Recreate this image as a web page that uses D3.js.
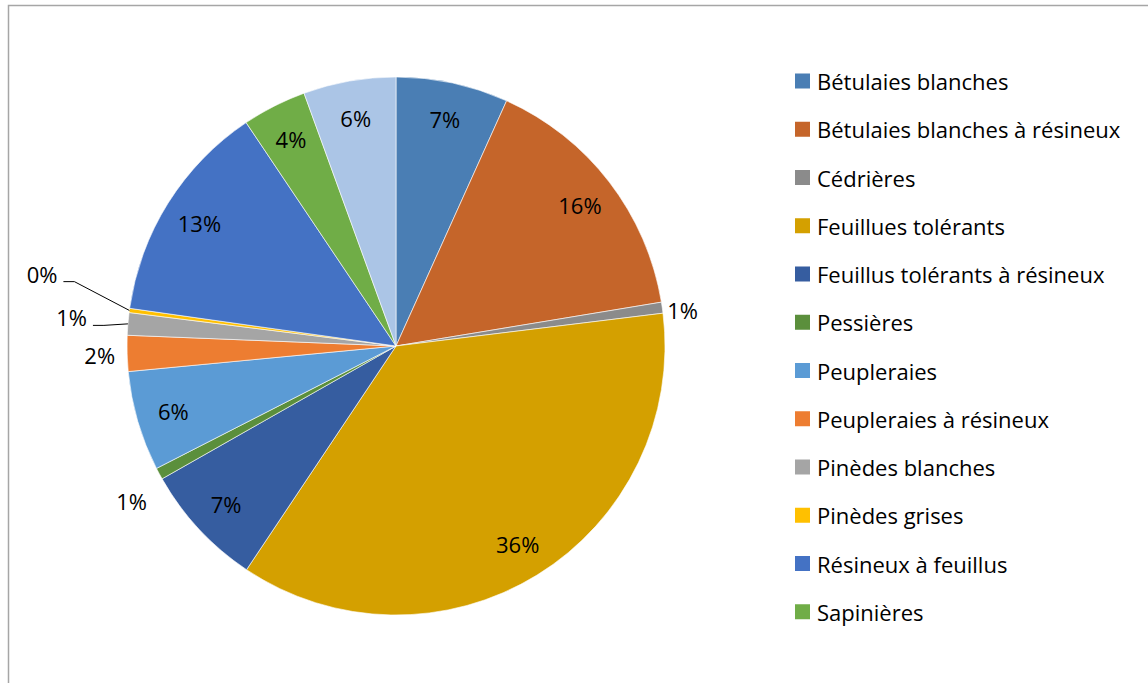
<!DOCTYPE html>
<html>
<head>
<meta charset="utf-8">
<script src="https://cdn.jsdelivr.net/npm/d3@7"></script>
<style>
  html, body { margin: 0; padding: 0; background: #fff; }
  svg { display: block; }
  text { font-family: "Open Sans", Lato, "Noto Sans", sans-serif; fill: #000; }
</style>
</head>
<body>
<svg id="chart" width="1148" height="683"></svg>
<script>
// Peuplements forestiers : part de chaque type (%)
const categories = [
  "Bétulaies blanches",
  "Bétulaies blanches à résineux",
  "Cédrières",
  "Feuillues tolérants",
  "Feuillus tolérants à résineux",
  "Pessières",
  "Peupleraies",
  "Peupleraies à résineux",
  "Pinèdes blanches",
  "Pinèdes grises",
  "Résineux à feuillus",
  "Sapinières",
  "Autres"
];
const values = [6.74, 15.64, 0.66, 36.3, 7.4, 0.7, 6.0, 2.15, 1.35, 0.25, 13.35, 3.85, 5.55];
const colors = [
  "#4a7eb4", "#c5652a", "#8b8b8b", "#d4a000", "#365da0", "#5b8f3c",
  "#5b9bd5", "#ed7d31", "#a5a5a5", "#ffc000", "#4472c4", "#70ad47",
  "#abc5e6"
];

const svg = d3.select("#chart");
const W = 1148, H = 683;

// chart frame (top and left edges visible)
svg.append("path")
  .attr("d", `M8.5,${H} V5.5 H${W}`)
  .attr("fill", "none")
  .attr("stroke", "#a6a6a6")
  .attr("stroke-width", 1.5);

const cx = 396, cy = 346, R = 269, labelR = 232;
const g = svg.append("g").attr("transform", `translate(${cx},${cy})`);

const total = d3.sum(values);
const data = categories.map((c, i) => ({ name: c, value: values[i], color: colors[i] }));
const pie = d3.pie().value(d => d.value).sort(null).startAngle(0).endAngle(2 * Math.PI);
const arcs = pie(data);
const arc = d3.arc().innerRadius(0).outerRadius(R);
const labelArc = d3.arc().innerRadius(labelR).outerRadius(labelR);

g.selectAll("path.slice")
  .data(arcs)
  .join("path")
  .attr("class", "slice")
  .attr("d", arc)
  .attr("fill", d => d.data.color)
  .attr("stroke", "#ffffff")
  .attr("stroke-width", 0.6);

const pct = d3.format(".0%");
const fontSize = 22;

// outside labels: pixel nudges from the default outside spot, optional leader line
const outside = {
  "Cédrières": { dx: -1, dy: 3 },
  "Pessières": { dx: -7, dy: 24 },
  "Peupleraies à résineux": { dx: -6, dy: 1 },
  "Pinèdes blanches": { dx: -35, dy: -6, leader: true },
  "Pinèdes grises": { dx: -66, dy: -36, leader: true }
};

const labels = g.append("g");
arcs.forEach(a => {
  const txt = pct(a.data.value / total);
  const mid = (a.startAngle + a.endAngle) / 2;
  const o = outside[a.data.name];
  if (!o) {
    const [x, y] = labelArc.centroid(a);
    labels.append("text")
      .attr("x", x).attr("y", y)
      .attr("text-anchor", "middle")
      .attr("dominant-baseline", "central")
      .attr("font-size", fontSize)
      .text(txt);
  } else {
    const rr = R + 6;
    const px = Math.sin(mid) * rr, py = -Math.cos(mid) * rr;
    const right = px > 0;
    const x = px + o.dx, y = py + o.dy;
    labels.append("text")
      .attr("x", x).attr("y", y)
      .attr("text-anchor", right ? "start" : "end")
      .attr("dominant-baseline", "central")
      .attr("font-size", fontSize)
      .text(txt);
    if (o.leader) {
      const ex = Math.sin(mid) * R, ey = -Math.cos(mid) * R;
      const sx = x + 6, sy = y + 8;
      labels.append("path")
        .attr("d", `M${sx},${sy} H${sx + 11} L${ex},${ey}`)
        .attr("fill", "none")
        .attr("stroke", "#000")
        .attr("stroke-width", 1);
    }
  }
});

// legend, items clipped to the legend box height
const legendTop = 81, legendStep = 48.25, legendBottom = 630;
const legend = svg.append("g").attr("transform", "translate(795,0)");
data.forEach((d, i) => {
  const yc = legendTop + i * legendStep;
  if (yc + 10 > legendBottom) return;
  legend.append("rect")
    .attr("x", 0).attr("y", yc - 7.5)
    .attr("width", 15).attr("height", 15)
    .attr("fill", d.color);
  legend.append("text")
    .attr("x", 22).attr("y", yc)
    .attr("dominant-baseline", "central")
    .attr("font-size", fontSize)
    .text(d.name);
});
</script>
</body>
</html>
